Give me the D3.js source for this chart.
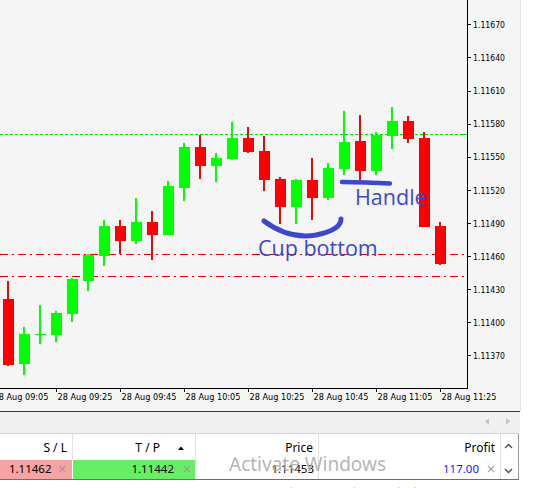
<!DOCTYPE html>
<html>
<head>
<meta charset="utf-8">
<script src="https://cdn.jsdelivr.net/npm/d3@7"></script>
<style>
  html, body { margin: 0; padding: 0; background: #ffffff; overflow: hidden; }
  svg { display: block; }
</style>
</head>
<body>
<svg id="chart" width="557" height="488"></svg>
<script>
// ---------------- DATA ----------------
const times  = ["09:10","09:15","09:20","09:25","09:30","09:35","09:40","09:45","09:50","09:55",
                "10:00","10:05","10:10","10:15","10:20","10:25","10:30","10:35","10:40","10:45",
                "10:50","10:55","11:00","11:05","11:10","11:15","11:20","11:25"];
const opens  = [1.11421,1.11362,1.11389,1.11388,1.11407,1.11437,1.11460,1.11487,1.11474,1.11491,
                1.11479,1.11522,1.11559,1.11542,1.11548,1.11567,1.11555,1.11530,1.11504,1.11529,
                1.11513,1.11539,1.11564,1.11537,1.11569,1.11582,1.11567,1.11487];
const highs  = [1.11437,1.11396,1.11416,1.11410,1.11440,1.11462,1.11493,1.11493,1.11513,1.11501,
                1.11528,1.11562,1.11570,1.11553,1.11581,1.11577,1.11569,1.11532,1.11530,1.11549,
                1.11544,1.11591,1.11588,1.11572,1.11595,1.11587,1.11572,1.11491];
const lows   = [1.11360,1.11352,1.11380,1.11382,1.11400,1.11428,1.11451,1.11462,1.11471,1.11456,
                1.11479,1.11510,1.11530,1.11527,1.11547,1.11553,1.11519,1.11489,1.11489,1.11493,
                1.11511,1.11533,1.11529,1.11533,1.11557,1.11562,1.11486,1.11452];
const closes = [1.11361,1.11389,1.11389,1.11408,1.11439,1.11461,1.11487,1.11474,1.11491,1.11479,
                1.11523,1.11559,1.11542,1.11549,1.11567,1.11554,1.11529,1.11504,1.11529,1.11513,
                1.11540,1.11563,1.11537,1.11570,1.11582,1.11566,1.11486,1.11453];

const yTickValues = [1.11370,1.11400,1.11430,1.11460,1.11490,1.11520,1.11550,1.11580,1.11610,1.11640,1.11670];
const xTickTimes  = ["09:05","09:25","09:45","10:05","10:25","10:45","11:05","11:25"];
const xTickLabels = ["28 Aug 09:05","28 Aug 09:25","28 Aug 09:45","28 Aug 10:05","28 Aug 10:25","28 Aug 10:45","28 Aug 11:05","28 Aug 11:25"];

const entryPrice = 1.11570;
const slPrice = 1.11462;
const tpPrice = 1.11442;

const tableHeaders = ["S / L", "T / P", "Price", "Profit"];
const tableRow = ["1.11462", "1.11442", "1.11453", "117.00"];

// ---------------- SETUP ----------------
const svg = d3.select("#chart");
const toMin = s => { const [h, m] = s.split(":").map(Number); return h * 60 + m; };

const plotRight = 467, plotBottom = 388;

const x = d3.scaleLinear().domain([toMin("09:05"), toMin("11:25")]).range([-7.5, 440.5]);
const y = d3.scaleLinear().domain([1.11370, 1.11670]).range([355.3, 24.3]);

// backgrounds
svg.append("rect").attr("x", 0).attr("y", 0).attr("width", 520).attr("height", 411).attr("fill", "#f5f5f5");
svg.append("rect").attr("x", 520).attr("y", 0).attr("width", 1).attr("height", 411).attr("fill", "#e2e2e2");

const plot = svg.append("g");
plot.append("clipPath").attr("id", "clip").append("rect")
  .attr("x", 0).attr("y", 0).attr("width", plotRight).attr("height", plotBottom);
const pg = plot.append("g").attr("clip-path", "url(#clip)");

// horizontal price lines
const ey = Math.round(y(entryPrice)) - 1;
pg.append("line").attr("x1", 0).attr("x2", plotRight)
  .attr("y1", ey + 0.5).attr("y2", ey + 0.5)
  .attr("stroke", "#00e000").attr("stroke-width", 1).attr("stroke-dasharray", "3,2")
  .attr("shape-rendering", "crispEdges");
svg.append("rect").attr("x", 462).attr("y", ey).attr("width", 4).attr("height", 1).attr("fill", "#00e000");
[slPrice, tpPrice].forEach(p => {
  pg.append("line").attr("x1", 0).attr("x2", plotRight)
    .attr("y1", Math.round(y(p)) + 0.5).attr("y2", Math.round(y(p)) + 0.5)
    .attr("stroke", "#e80000").attr("stroke-width", 1).attr("stroke-dasharray", "8,4,2,4")
    .attr("shape-rendering", "crispEdges");
});

// candles
const candles = times.map((t, i) => ({ t: toMin(t), o: opens[i], h: highs[i], l: lows[i], c: closes[i] }));
const cg = pg.selectAll("g.candle").data(candles).join("g").attr("class", "candle");
const col = d => d.c >= d.o ? "#00ff00" : "#ff0000";
cg.append("rect")
  .attr("x", d => x(d.t) - 1.5).attr("width", 2)
  .attr("y", d => Math.round(y(d.h)))
  .attr("height", d => Math.max(1, Math.round(y(d.l)) - Math.round(y(d.h))))
  .attr("fill", col).attr("shape-rendering", "crispEdges");
cg.append("rect")
  .attr("x", d => x(d.t) - 5.5).attr("width", 11)
  .attr("y", d => Math.round(y(Math.max(d.o, d.c))))
  .attr("height", d => Math.max(1, Math.round(y(Math.min(d.o, d.c))) - Math.round(y(Math.max(d.o, d.c)))))
  .attr("fill", col).attr("shape-rendering", "crispEdges");

// annotations
const ann = "#3f48cc";
pg.append("path").attr("d", "M342,182 L366,182.5 L390,183.5")
  .attr("fill", "none").attr("stroke", ann).attr("stroke-width", 4.5).attr("stroke-linecap", "round");
pg.append("path").attr("d", "M264,221 C280,233 298,238 316,235 C331,232 341,227 341,219")
  .attr("fill", "none").attr("stroke", ann).attr("stroke-width", 5).attr("stroke-linecap", "round");
pg.append("text").attr("x", 355).attr("y", 205).text("Handle")
  .attr("font-family", "'Open Sans', sans-serif").attr("font-size", 21.5).attr("fill", ann);
pg.append("text").attr("x", 258).attr("y", 256).text("Cup bottom")
  .attr("font-family", "'Open Sans', sans-serif").attr("font-size", 21.5).attr("fill", ann);

// frame
svg.append("line").attr("x1", plotRight + 0.5).attr("x2", plotRight + 0.5).attr("y1", 0).attr("y2", plotBottom + 1)
  .attr("stroke", "#000").attr("stroke-width", 1);
svg.append("line").attr("x1", 0).attr("x2", plotRight + 1).attr("y1", plotBottom + 0.5).attr("y2", plotBottom + 0.5)
  .attr("stroke", "#000").attr("stroke-width", 1);

// y axis
const yAxis = d3.axisRight(y).tickValues(yTickValues).tickFormat(d3.format(".5f")).tickSize(4).tickPadding(2);
const yg = svg.append("g").attr("transform", `translate(${plotRight},0)`).call(yAxis);
yg.select(".domain").remove();
yg.selectAll(".tick line").attr("stroke", "#000").attr("shape-rendering", "crispEdges");
yg.selectAll(".tick text")
  .attr("font-family", "'DejaVu Sans', sans-serif").attr("font-size", 9.5).attr("fill", "#000")
  .attr("dy", "0.34em").attr("textLength", 32).attr("lengthAdjust", "spacingAndGlyphs");

// x axis
const xAxis = d3.axisBottom(x).tickValues(xTickTimes.map(toMin))
  .tickFormat((d, i) => xTickLabels[i]).tickSize(4);
const xg = svg.append("g").attr("transform", `translate(-0.5,${plotBottom})`).call(xAxis);
xg.select(".domain").remove();
xg.selectAll(".tick line").attr("stroke", "#000").attr("shape-rendering", "crispEdges");
xg.selectAll(".tick text")
  .attr("text-anchor", "start").attr("x", 1).attr("y", 12).attr("dy", 0)
  .attr("font-family", "'DejaVu Sans', sans-serif").attr("font-size", 9.5).attr("fill", "#000")
  .attr("textLength", 55).attr("lengthAdjust", "spacingAndGlyphs");

// ---------------- bottom terminal panel ----------------
svg.append("rect").attr("x", 0).attr("y", 411).attr("width", 520).attr("height", 1).attr("fill", "#3a3a3a");
svg.append("rect").attr("x", 0).attr("y", 412).attr("width", 520).attr("height", 21).attr("fill", "#f0f0f0");
svg.append("rect").attr("x", 0).attr("y", 433).attr("width", 519).attr("height", 1).attr("fill", "#d0d0d0");
svg.append("path").attr("d", "M489,418 L485,421.5 L489,425 Z").attr("fill", "#c4c4c4");
svg.append("path").attr("d", "M506,418 L510,421.5 L506,425 Z").attr("fill", "#c4c4c4");

svg.append("rect").attr("x", 0).attr("y", 434).attr("width", 518).attr("height", 45).attr("fill", "#ffffff");
svg.append("rect").attr("x", 0).attr("y", 460).attr("width", 72).attr("height", 19).attr("fill", "#f5a3a3");
svg.append("rect").attr("x", 73).attr("y", 460).attr("width", 122).attr("height", 19).attr("fill", "#66ef66");

// column separators
[[72, 434, 460], [195, 434, 479], [318, 434, 479], [500, 434, 479]].forEach(([sx, y1, y2]) => {
  svg.append("rect").attr("x", sx).attr("y", y1).attr("width", 1).attr("height", y2 - y1).attr("fill", "#e3e3e3");
});
svg.append("rect").attr("x", 518).attr("y", 434).attr("width", 1).attr("height", 46).attr("fill", "#9a9a9a");
svg.append("rect").attr("x", 0).attr("y", 479).attr("width", 519).attr("height", 1).attr("fill", "#6e6e6e");

const headerX = [67, 160, 313, 495];
tableHeaders.forEach((h, i) => {
  svg.append("text").attr("x", headerX[i]).attr("y", 452).attr("text-anchor", "end").text(h)
    .attr("font-family", "'Noto Sans', sans-serif").attr("font-size", 12).attr("fill", "#000");
});
svg.append("path").attr("d", "M178,450 L181,446.5 L184,450 Z").attr("fill", "#000");

const rowX = [51.5, 174, 314, 479];
const rowCol = ["#000", "#000", "#000", "#1a1aff"];
tableRow.forEach((v, i) => {
  svg.append("text").attr("x", rowX[i]).attr("y", 473).attr("text-anchor", "end").text(v)
    .attr("font-family", "'Noto Sans', sans-serif").attr("font-size", 11.5).attr("fill", rowCol[i]);
});
[62, 187, 491].forEach(cx => {
  svg.append("text").attr("x", cx).attr("y", 473).attr("text-anchor", "middle").text("×")
    .attr("font-family", "'DejaVu Sans', sans-serif").attr("font-size", 12).attr("fill", "#9a9a9a");
});
// scrollbar chevrons
svg.append("path").attr("d", "M505,448 L508.5,444.5 L512,448").attr("fill", "none").attr("stroke", "#555").attr("stroke-width", 1.5);
svg.append("path").attr("d", "M505,469 L508.5,472.5 L512,469").attr("fill", "none").attr("stroke", "#555").attr("stroke-width", 1.5);

// watermark
svg.append("text").attr("x", 229).attr("y", 471).text("Activate Windows")
  .attr("font-family", "'Noto Sans', sans-serif").attr("font-size", 19).attr("fill", "#a8a8a8").attr("fill-opacity", 0.85);
svg.append("text").attr("x", 229).attr("y", 497).text("Go to Settings to activate Windows.")
  .attr("font-family", "'Noto Sans', sans-serif").attr("font-size", 13).attr("fill", "#b4b4b4").attr("fill-opacity", 0.8);
</script>
</body>
</html>
